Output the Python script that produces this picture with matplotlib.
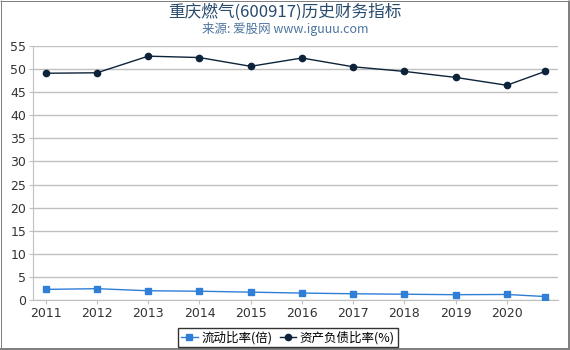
import matplotlib
matplotlib.use('Agg')
import matplotlib.pyplot as plt
from matplotlib.lines import Line2D

plt.rcParams['font.family'] = ['Noto Sans CJK SC', 'DejaVu Sans']

years = [2011, 2012, 2013, 2014, 2015, 2016, 2017, 2018, 2019, 2020, 2020.75]
current_ratio = [2.3, 2.45, 2.0, 1.9, 1.7, 1.5, 1.35, 1.25, 1.15, 1.2, 0.75]
debt_ratio = [49.1, 49.2, 52.8, 52.5, 50.6, 52.4, 50.5, 49.5, 48.2, 46.5, 49.5]
xticks = [2011, 2012, 2013, 2014, 2015, 2016, 2017, 2018, 2019, 2020]
yticks = list(range(0, 56, 5))

fig = plt.figure(figsize=(5.7, 3.5), dpi=100)
ax = fig.add_axes([33 / 570, 50 / 350, 525 / 570, 254 / 350])

ax.plot(years, current_ratio, color='#2f7ed8', marker='s', markersize=4.5,
        linewidth=1, label='流动比率(倍)', zorder=3)
ax.plot(years, debt_ratio, color='#0d233a', marker='o', markersize=4.5,
        linewidth=1, label='资产负债比率(%)', zorder=3)

ax.set_ylim(0, 55)
ax.set_xlim(2010.75, 2021.0)
ax.set_yticks(yticks)
ax.set_xticks(xticks)
ax.grid(axis='y', color='#c0c0c0', linewidth=1)
ax.set_axisbelow(True)
for s in ['top', 'right']:
    ax.spines[s].set_visible(False)
ax.spines['left'].set_color('#c0c0c0')
ax.spines['bottom'].set_color('#c0c0c0')
ax.tick_params(axis='both', labelsize=9, colors='#c0c0c0', labelcolor='#333333',
               length=3)
ax.tick_params(axis='y', pad=2)
ax.tick_params(axis='x', pad=2)
for lab in ax.get_xticklabels() + ax.get_yticklabels():
    lab.set_fontfamily('DejaVu Sans')

fig.text(0.5, 0.965, '重庆燃气(600917)历史财务指标', ha='center', va='center',
         fontsize=12, color='#274b6d')
fig.text(0.5, 0.918, '来源: 爱股网 www.iguuu.com', ha='center', va='center',
         fontsize=9, color='#4d759e')

leg = fig.legend(*ax.get_legend_handles_labels(), loc='center',
                 bbox_to_anchor=(288 / 570, 1 - 337.5 / 350), ncol=2,
                 fontsize=9, frameon=True, fancybox=False, edgecolor='#000000',
                 handlelength=1.3, handletextpad=0.3, columnspacing=0.6,
                 borderpad=0.25)
leg.get_frame().set_linewidth(1)

# outer gray border, heavier on right and bottom
W, H = 570, 350
def px_line(x0, y0, x1, y1, lw):
    fig.add_artist(Line2D([x0 / W, x1 / W], [1 - y0 / H, 1 - y1 / H],
                          transform=fig.transFigure, color='#808080',
                          linewidth=lw * 0.72, solid_capstyle='butt'))

px_line(0.5, 0, 0.5, H, 1)
px_line(0, 0.5, W, 0.5, 1)
px_line(W - 1.5, 0, W - 1.5, H, 3)
px_line(0, H - 1, W, H - 1, 2)

fig.savefig('out.png', dpi=100)
